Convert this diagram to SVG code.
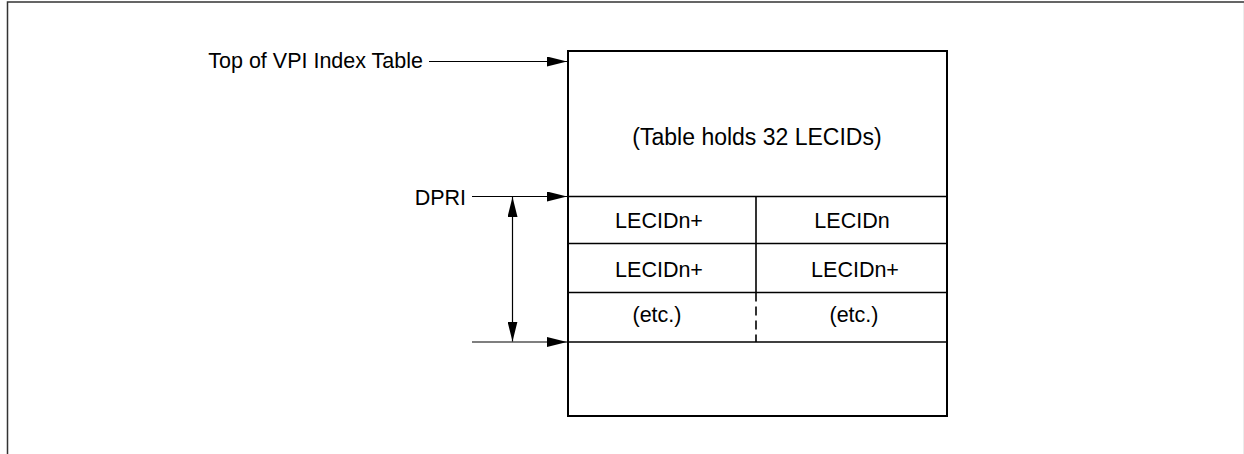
<svg xmlns="http://www.w3.org/2000/svg" width="1244" height="454" viewBox="0 0 1244 454">
<style>
text{font-family:"Liberation Sans",Arial,sans-serif;font-size:21.5px;fill:#000}
.c{text-anchor:middle}
.e{text-anchor:end}
.h{font-size:23px}
.box{fill:none;stroke:#000;stroke-width:2}
.row{fill:none;stroke:#000;stroke-width:1.6}
.arr{fill:none;stroke:#000;stroke-width:1.2}
</style>
<defs>
<marker id="ah" viewBox="0 0 20 10" refX="20" refY="5" markerWidth="20" markerHeight="10" markerUnits="userSpaceOnUse" orient="auto-start-reverse">
<path d="M0,0 L20,5 L0,10 Z" fill="#000"/>
</marker>
</defs>
<rect width="1244" height="454" fill="#fff"/>
<g id="frame">
<path d="M7.5,454 V2 H1244" fill="none" stroke="#333" stroke-width="1.5"/>
<line x1="1243.5" y1="3" x2="1243.5" y2="454" stroke="#ececec" stroke-width="1"/>
</g>
<g id="table">
<rect class="box" x="568" y="51" width="379" height="365"/>
<line class="row" x1="568" y1="196.5" x2="947" y2="196.5"/>
<line class="row" x1="568" y1="243.5" x2="947" y2="243.5"/>
<line class="row" x1="568" y1="292.5" x2="947" y2="292.5"/>
<line class="row" x1="568" y1="342" x2="947" y2="342"/>
<line class="row" x1="756" y1="196.5" x2="756" y2="292.5"/>
<line class="row" x1="756" y1="292.5" x2="756" y2="342" stroke-dasharray="9 5"/>
<text class="c h" x="757" y="145">(Table holds 32 LECIDs)</text>
<text class="c" x="659" y="228">LECIDn+</text>
<text class="c" x="852" y="228">LECIDn</text>
<text class="c" x="659" y="277">LECIDn+</text>
<text class="c" x="855" y="277">LECIDn+</text>
<text class="c" x="657" y="322">(etc.)</text>
<text class="c" x="854" y="322">(etc.)</text>
</g>
<g id="label-top">
<text class="e" x="423" y="68">Top of VPI Index Table</text>
</g>
<g id="label-dpri">
<text class="e" x="466" y="205">DPRI</text>
</g>
<g id="connectors">
<line class="arr" x1="429" y1="61.5" x2="567" y2="61.5" marker-end="url(#ah)"/>
<line class="arr" x1="472" y1="196.5" x2="567" y2="196.5" marker-end="url(#ah)"/>
<line class="arr" x1="472" y1="342" x2="567" y2="342" marker-end="url(#ah)"/>
<line class="arr" x1="512.5" y1="197" x2="512.5" y2="341.5" marker-start="url(#ah)" marker-end="url(#ah)"/>
</g>
</svg>
